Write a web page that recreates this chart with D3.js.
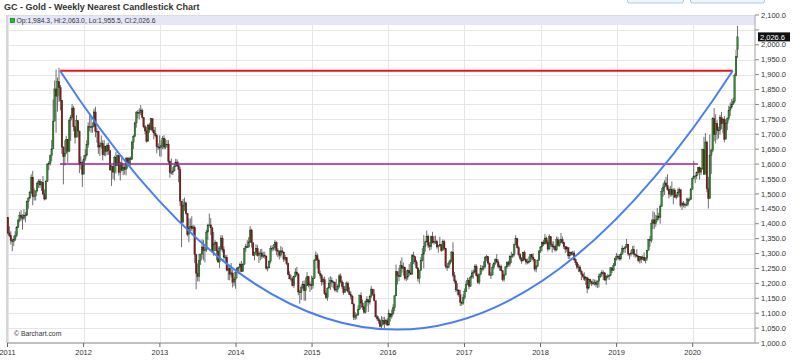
<!DOCTYPE html>
<html>
<head>
<meta charset="utf-8">
<script src="https://cdn.jsdelivr.net/npm/d3@7/dist/d3.min.js"></script>
<style>
    body { margin: 0; background: #fff; }
    svg { display: block; font-family: "Liberation Sans", Arial, sans-serif; }
</style>
</head>
<body>
<svg id="chart" width="800" height="363"></svg>
<script>
// weekly bars per year: [high, low, close]; open = previous close
var firstOpen = 1421;
var w2011 = [[1423,1363,1369],[1392,1355,1360],[1375,1330,1343],[1350,1308,1340],[1360,1325,1348],[1375,1342,1360],[1392,1355,1388],[1417,1385,1410],[1440,1405,1429],[1445,1410,1421],[1432,1380,1418],[1448,1412,1429],[1439,1405,1429],[1478,1425,1474],[1489,1450,1486],[1510,1482,1504],[1566,1500,1556],[1577,1462,1491],[1519,1478,1493],[1512,1478,1510],[1540,1505,1536],[1549,1520,1542],[1550,1520,1530],[1543,1510,1539],[1560,1495,1500],[1515,1478,1483],[1546,1480,1542],[1603,1540,1600],[1610,1580,1601],[1632,1595,1628],[1681,1610,1651],[1817,1660,1744],[1880,1757,1852],[1917,1705,1828],[1890,1776,1876],[1923,1808,1856],[1865,1780,1814],[1815,1634,1657],[1660,1532,1625],[1680,1595,1636],[1695,1640,1683],[1672,1604,1643],[1752,1640,1747],[1765,1678,1757],[1802,1755,1788],[1795,1710,1725],[1725,1669,1690],[1764,1690,1746],[1745,1690,1711],[1712,1570,1598],[1625,1582,1606],[1612,1523,1566]];
var w2012 = [[1630,1590,1617],[1650,1610,1630],[1680,1625,1665],[1740,1655,1725],[1764,1710,1725],[1760,1705,1725],[1740,1705,1725],[1786,1725,1775],[1792,1690,1710],[1720,1672,1710],[1712,1634,1657],[1675,1627,1662],[1696,1652,1669],[1680,1612,1631],[1680,1627,1660],[1662,1626,1642],[1670,1630,1663],[1672,1631,1645],[1645,1580,1580],[1597,1527,1592],[1596,1550,1573],[1628,1545,1623],[1641,1568,1595],[1632,1595,1628],[1630,1562,1572],[1608,1545,1604],[1629,1577,1579],[1600,1563,1589],[1598,1565,1582],[1624,1562,1619],[1623,1585,1603],[1625,1600,1618],[1625,1595,1616],[1679,1614,1672],[1698,1650,1693],[1742,1690,1738],[1778,1722,1772],[1781,1753,1772],[1787,1750,1773],[1798,1764,1781],[1787,1753,1757],[1757,1720,1725],[1731,1700,1711],[1725,1672,1677],[1735,1675,1731],[1738,1705,1715],[1755,1713,1752],[1754,1706,1713],[1725,1683,1704],[1724,1690,1696],[1700,1636,1658],[1670,1647,1656],[1697,1626,1656]];
var w2013 = [[1680,1625,1662],[1694,1650,1687],[1697,1650,1657],[1685,1650,1667],[1681,1655,1667],[1680,1600,1609],[1612,1554,1572],[1619,1565,1572],[1590,1563,1577],[1598,1575,1592],[1618,1590,1607],[1616,1590,1595],[1608,1539,1582],[1590,1460,1476],[1425,1321,1405],[1483,1401,1462],[1488,1443,1470],[1474,1430,1435],[1435,1358,1364],[1418,1338,1386],[1418,1375,1392],[1425,1375,1383],[1396,1365,1387],[1394,1268,1297],[1299,1180,1234],[1267,1207,1223],[1300,1206,1277],[1300,1262,1297],[1348,1283,1322],[1345,1277,1310],[1324,1270,1312],[1380,1305,1372],[1400,1346,1395],[1434,1393,1396],[1419,1362,1386],[1390,1305,1308],[1372,1292,1332],[1345,1310,1337],[1340,1277,1309],[1325,1268,1272],[1324,1251,1316],[1362,1310,1352],[1361,1304,1313],[1324,1278,1288],[1295,1266,1288],[1295,1240,1244],[1263,1211,1251],[1254,1210,1230],[1268,1220,1235],[1247,1186,1204],[1222,1191,1214],[1240,1182,1238]];
var w2014 = [[1255,1217,1250],[1256,1231,1254],[1270,1235,1264],[1275,1238,1240],[1268,1239,1263],[1320,1264,1318],[1332,1306,1323],[1345,1320,1321],[1355,1321,1339],[1392,1336,1379],[1383,1320,1336],[1336,1292,1294],[1306,1277,1303],[1331,1295,1318],[1329,1290,1293],[1307,1268,1300],[1315,1277,1302],[1316,1282,1290],[1306,1285,1294],[1306,1283,1292],[1292,1246,1250],[1257,1240,1252],[1277,1251,1274],[1326,1267,1316],[1328,1307,1316],[1332,1310,1320],[1345,1311,1337],[1341,1294,1310],[1318,1288,1307],[1311,1280,1294],[1325,1287,1309],[1321,1301,1305],[1306,1272,1281],[1295,1275,1287],[1288,1261,1267],[1269,1228,1229],[1240,1214,1215],[1229,1206,1215],[1223,1190,1192],[1226,1184,1222],[1251,1220,1238],[1255,1226,1231],[1235,1160,1171],[1178,1132,1169],[1193,1144,1185],[1208,1180,1197],[1210,1142,1175],[1220,1142,1192],[1238,1191,1222],[1225,1187,1195],[1206,1171,1196],[1226,1178,1192]];
var w2015 = [[1224,1182,1217],[1282,1215,1277],[1307,1276,1293],[1301,1250,1278],[1284,1232,1234],[1243,1216,1227],[1232,1192,1205],[1220,1196,1212],[1223,1161,1167],[1176,1147,1152],[1187,1142,1184],[1220,1183,1199],[1224,1178,1210],[1220,1187,1205],[1209,1183,1203],[1206,1173,1178],[1215,1170,1179],[1197,1169,1189],[1232,1183,1225],[1233,1200,1205],[1212,1181,1190],[1204,1162,1169],[1191,1170,1180],[1206,1174,1201],[1206,1169,1173],[1187,1161,1163],[1172,1146,1157],[1162,1131,1131],[1134,1077,1085],[1104,1077,1094],[1099,1080,1094],[1126,1091,1113],[1162,1111,1159],[1170,1117,1134],[1146,1111,1121],[1125,1098,1103],[1143,1099,1138],[1157,1123,1145],[1146,1104,1137],[1162,1129,1157],[1191,1151,1181],[1179,1158,1163],[1180,1140,1142],[1140,1085,1088],[1094,1075,1081],[1089,1065,1075],[1080,1052,1056],[1090,1046,1062],[1087,1060,1075],[1088,1049,1065],[1081,1061,1075],[1083,1058,1060]];
var w2016 = [[1112,1062,1098],[1099,1072,1088],[1112,1082,1097],[1130,1096,1118],[1160,1107,1158],[1263,1158,1239],[1240,1196,1227],[1253,1207,1222],[1276,1221,1259],[1287,1236,1250],[1270,1226,1255],[1253,1210,1217],[1243,1208,1221],[1247,1211,1243],[1265,1224,1235],[1272,1228,1230],[1299,1232,1293],[1306,1265,1290],[1284,1260,1272],[1278,1248,1252],[1253,1206,1216],[1245,1199,1243],[1288,1243,1276],[1318,1273,1298],[1362,1250,1323],[1343,1306,1339],[1377,1337,1358],[1364,1318,1328],[1339,1310,1323],[1360,1313,1357],[1373,1334,1336],[1359,1330,1340],[1360,1332,1341],[1346,1316,1322],[1329,1303,1326],[1356,1323,1330],[1333,1305,1310],[1347,1313,1340],[1346,1311,1317],[1319,1250,1257],[1264,1242,1253],[1274,1251,1267],[1280,1261,1276],[1308,1270,1305],[1338,1220,1227],[1238,1200,1208],[1213,1171,1178],[1201,1160,1177],[1181,1155,1162],[1178,1124,1137],[1140,1125,1133],[1164,1128,1152]];
var w2017 = [[1183,1146,1173],[1207,1172,1197],[1219,1194,1210],[1219,1180,1190],[1226,1188,1221],[1245,1215,1235],[1246,1216,1238],[1264,1232,1258],[1264,1223,1226],[1234,1199,1203],[1233,1196,1230],[1262,1227,1249],[1261,1240,1249],[1274,1243,1256],[1291,1251,1288],[1296,1274,1289],[1292,1263,1268],[1270,1226,1228],[1238,1215,1228],[1264,1226,1254],[1271,1247,1268],[1284,1262,1280],[1298,1267,1272],[1280,1250,1256],[1264,1242,1257],[1263,1240,1242],[1245,1207,1213],[1233,1206,1228],[1258,1227,1255],[1274,1249,1269],[1276,1256,1264],[1295,1256,1290],[1306,1268,1291],[1300,1285,1297],[1333,1290,1330],[1362,1328,1351],[1338,1317,1320],[1326,1290,1297],[1301,1278,1284],[1288,1266,1275],[1306,1274,1304],[1310,1277,1280],[1284,1263,1272],[1283,1264,1269],[1290,1266,1274],[1298,1272,1296],[1299,1280,1288],[1301,1273,1280],[1280,1240,1248],[1262,1237,1257],[1280,1254,1278],[1310,1276,1309]];
var w2018 = [[1325,1302,1322],[1341,1307,1338],[1346,1325,1332],[1366,1331,1352],[1357,1331,1337],[1345,1307,1315],[1365,1313,1356],[1358,1322,1330],[1341,1303,1323],[1341,1313,1324],[1330,1306,1312],[1357,1308,1346],[1356,1323,1327],[1348,1323,1336],[1369,1334,1347],[1357,1332,1338],[1338,1315,1323],[1325,1302,1315],[1326,1306,1320],[1320,1282,1292],[1307,1282,1304],[1307,1293,1298],[1309,1294,1302],[1310,1275,1279],[1284,1261,1270],[1272,1247,1254],[1265,1238,1255],[1261,1237,1241],[1246,1211,1231],[1236,1218,1223],[1237,1208,1214],[1224,1195,1219],[1221,1167,1184],[1217,1179,1213],[1216,1196,1206],[1209,1191,1200],[1215,1194,1201],[1213,1193,1202],[1212,1187,1196],[1210,1184,1207],[1233,1186,1222],[1236,1218,1230],[1245,1222,1236],[1243,1212,1235],[1238,1209,1211],[1228,1195,1223],[1231,1217,1224],[1230,1211,1226],[1254,1224,1252],[1254,1235,1244],[1268,1242,1259],[1286,1258,1283],[1302,1276,1290]];
var w2019 = [[1298,1279,1290],[1298,1276,1282],[1304,1277,1298],[1327,1297,1318],[1320,1304,1316],[1326,1302,1322],[1349,1318,1331],[1333,1292,1299],[1301,1281,1298],[1312,1290,1302],[1325,1297,1313],[1327,1289,1298],[1300,1286,1295],[1315,1287,1291],[1294,1271,1276],[1290,1267,1289],[1291,1268,1281],[1294,1278,1288],[1304,1274,1277],[1288,1267,1284],[1312,1276,1311],[1349,1310,1346],[1359,1323,1344],[1414,1337,1402],[1442,1382,1413],[1439,1383,1400],[1430,1390,1413],[1453,1407,1426],[1437,1412,1420],[1465,1400,1457],[1520,1457,1509],[1535,1491,1523],[1546,1496,1537],[1557,1522,1529],[1566,1511,1515],[1522,1485,1499],[1527,1491,1515],[1542,1491,1497],[1519,1465,1513],[1519,1486,1489],[1500,1482,1495],[1518,1487,1505],[1522,1490,1514],[1515,1455,1462],[1474,1446,1468],[1476,1455,1463],[1471,1452,1464],[1487,1459,1465],[1488,1458,1481],[1488,1474,1481],[1520,1480,1515],[1555,1515,1552]];
var w2020 = [[1611,1549,1560],[1563,1536,1560],[1575,1550,1571],[1590,1563,1589],[1592,1548,1573],[1587,1563,1586],[1652,1581,1649],[1691,1564,1566],[1704,1576,1674],[1679,1506,1517],[1557,1451,1485],[1699,1482,1630],[1651,1567,1646],[1757,1640,1752],[1788,1677,1699],[1767,1669,1736],[1747,1682,1714],[1725,1686,1713],[1765,1699,1756],[1775,1717,1735],[1753,1703,1751],[1761,1673,1683],[1749,1687,1737],[1757,1714,1753],[1796,1746,1780],[1807,1761,1791],[1818,1786,1801],[1823,1798,1810],[1904,1804,1897],[1984,1895,1962]];
var years = [2011, 2012, 2013, 2014, 2015, 2016, 2017, 2018, 2019, 2020];
var weeklyByYear = [w2011, w2012, w2013, w2014, w2015, w2016, w2017, w2018, w2019, w2020];

// last (current) weekly bar: open, high, low, close
var lastBar = [1984.3, 2063.0, 1955.5, 2026.6];
var lastBarDate = new Date(2020, 7, 3);

var yTicks = d3.range(1000, 2101, 50);

// drawn annotations
var resistance = {value: 1913, from: new Date(2011, 8, 10), to: new Date(2020, 6, 11)};
var support = {value: 1600, from: new Date(2011, 8, 10), to: new Date(2020, 0, 26)};
var cupBottom = {date: new Date(2016, 1, 9), value: 1045};

function buildBars() {
    var bars = [];
    var prevClose = firstOpen;
    years.forEach(function (yr, k) {
        var start = d3.timeMonday.ceil(new Date(yr, 0, 1));
        weeklyByYear[k].forEach(function (w, i) {
            bars.push({
                date: d3.timeWeek.offset(start, i),
                open: prevClose, high: w[0], low: w[1], close: w[2]
            });
            prevClose = w[2];
        });
    });
    bars.push({date: lastBarDate, open: lastBar[0], high: lastBar[1], low: lastBar[2], close: lastBar[3]});
    return bars;
}

function goldChart(bars) {
    var svg = d3.select("#chart");
    svg.selectAll("*").remove();

    var left = 7, right = 755, top = 15, bottom = 343;
    var fmt = d3.format(",.1f");

    var x = d3.scaleTime()
        .domain([new Date(2011, 0, 1), new Date(2020, 0, 1)])
        .range([7.5, 692.7]);
    var y = d3.scaleLinear().domain([1000, 2100]).range([bottom, top]);

    svg.append("rect").attr("width", 800).attr("height", 363).attr("fill", "#fff");

    // top-right page buttons (cut off)
    svg.append("rect").attr("x", 627.5).attr("y", -6).attr("width", 56).attr("height", 9).attr("rx", 2)
        .attr("fill", "#eef5fb").attr("stroke", "#a9cbe6");
    svg.append("rect").attr("x", 690.5).attr("y", -6).attr("width", 74).attr("height", 9).attr("rx", 2)
        .attr("fill", "#eef5fb").attr("stroke", "#a9cbe6");

    svg.append("text")
        .attr("x", 4).attr("y", 10)
        .attr("font-size", "9px").attr("font-weight", "bold").attr("fill", "#333")
        .text("GC - Gold - Weekly Nearest Candlestick Chart");

    // gridlines
    svg.append("g").selectAll("line").data(yTicks).enter().append("line")
        .attr("x1", left).attr("x2", right)
        .attr("y1", function (d) { return Math.round(y(d)) + 0.5; })
        .attr("y2", function (d) { return Math.round(y(d)) + 0.5; })
        .attr("stroke", "#e6e6e6");

    var yearTicks = years.map(function (yr) { return new Date(yr, 0, 1); });
    svg.append("g").selectAll("line").data(yearTicks).enter().append("line")
        .attr("x1", function (d) { return Math.round(x(d)) + 0.5; })
        .attr("x2", function (d) { return Math.round(x(d)) + 0.5; })
        .attr("y1", top).attr("y2", bottom)
        .attr("stroke", "#e6e6e6");

    // legend band
    svg.append("rect").attr("x", left + 1).attr("y", top + 1).attr("width", right - left - 1).attr("height", 9)
        .attr("fill", "#e6e6fa");
    svg.append("rect").attr("x", 10.5).attr("y", 18.5).attr("width", 4).attr("height", 4)
        .attr("fill", "#1dc31d").attr("stroke", "#226622").attr("stroke-width", 0.7);
    svg.append("text")
        .attr("x", 16.5).attr("y", 23.3)
        .attr("font-size", "6.8px").attr("fill", "#333")
        .text("Op:" + fmt(lastBar[0]) + ", Hi:" + fmt(lastBar[1]) + ", Lo:" + fmt(lastBar[2]) + ", Cl:" + fmt(lastBar[3]));

    // frame
    svg.append("line").attr("x1", left).attr("x2", left).attr("y1", top).attr("y2", bottom)
        .attr("stroke", "#c8c8c8").attr("stroke-width", 1.5);
    svg.append("line").attr("x1", left).attr("x2", right).attr("y1", top + 0.5).attr("y2", top + 0.5)
        .attr("stroke", "#dcdcdc");

    // candles
    var candles = svg.append("g").selectAll("g").data(bars).enter().append("g");
    candles.append("line")
        .attr("x1", function (d) { return x(d.date); })
        .attr("x2", function (d) { return x(d.date); })
        .attr("y1", function (d) { return y(d.high); })
        .attr("y2", function (d) { return y(d.low); })
        .attr("stroke", "#4a4a4a").attr("stroke-width", 0.8);
    candles.append("rect")
        .attr("x", function (d) { return x(d.date) - 0.8; })
        .attr("width", 1.6)
        .attr("y", function (d) { return y(Math.max(d.open, d.close)); })
        .attr("height", function (d) { return Math.max(0.8, Math.abs(y(d.open) - y(d.close))); })
        .attr("fill", function (d) { return d.close >= d.open ? "#2b8f2b" : "#8c1414"; })
        .attr("stroke", "#222").attr("stroke-width", 0.3);

    // resistance / support lines
    svg.append("line")
        .attr("x1", x(resistance.from)).attr("x2", x(resistance.to))
        .attr("y1", y(resistance.value)).attr("y2", y(resistance.value))
        .attr("stroke", "#e8141b").attr("stroke-width", 2);
    svg.append("line")
        .attr("x1", x(support.from)).attr("x2", x(support.to))
        .attr("y1", y(support.value)).attr("y2", y(support.value))
        .attr("stroke", "#a0229e").attr("stroke-width", 1.5);

    // cup curve: parabola from the 2011 high through the 2016 low back to the 2020 break
    var x0 = x(resistance.from), x2 = x(resistance.to), y0 = y(resistance.value);
    var cup = d3.path();
    cup.moveTo(x0, y0);
    cup.quadraticCurveTo(x(cupBottom.date), 2 * y(cupBottom.value) - y0, x2, y0);
    svg.append("path").attr("d", cup.toString())
        .attr("fill", "none").attr("stroke", "#4a7ff0").attr("stroke-width", 2);

    // bottom axis
    svg.append("line").attr("x1", left).attr("x2", right).attr("y1", bottom).attr("y2", bottom)
        .attr("stroke", "#c0c0c0").attr("stroke-width", 2);
    var xg = svg.append("g").selectAll("g").data(yearTicks).enter().append("g")
        .attr("transform", function (d) { return "translate(" + x(d) + "," + bottom + ")"; });
    xg.append("line").attr("y1", 0).attr("y2", 4).attr("stroke", "#666");
    xg.append("text").attr("y", 9).attr("dy", "0.35em").attr("text-anchor", "middle")
        .attr("font-size", "7.5px").attr("fill", "#333")
        .text(function (d) { return d.getFullYear(); });

    // right axis; labels hidden where the last-value marker sits
    var ly = y(lastBar[3]);
    svg.append("line").attr("x1", right).attr("x2", right).attr("y1", top).attr("y2", bottom)
        .attr("stroke", "#c0c0c0").attr("stroke-width", 1.5);
    var yg = svg.append("g").selectAll("g").data(yTicks).enter().append("g")
        .attr("transform", function (d) { return "translate(" + right + "," + y(d) + ")"; });
    yg.append("line").attr("x1", 0).attr("x2", 4).attr("stroke", "#888");
    yg.filter(function (d) { return Math.abs(y(d) - ly) >= 7.5; })
        .append("text").attr("x", 6).attr("dy", "0.35em")
        .attr("font-size", "7.5px").attr("fill", "#333")
        .text(function (d) { return fmt(d); });

    // last value marker
    svg.append("rect").attr("x", 758).attr("y", ly - 4.5).attr("width", 32).attr("height", 9).attr("fill", "#111");
    svg.append("text").attr("x", 760).attr("y", ly).attr("dy", "0.35em")
        .attr("font-size", "7.5px").attr("fill", "#fff")
        .text(fmt(lastBar[3]));

    svg.append("text").attr("x", 14).attr("y", 336)
        .attr("font-size", "6.8px").attr("fill", "#333")
        .text("\u00a9 Barchart.com");
}

goldChart(buildBars());
</script>
</body>
</html>
